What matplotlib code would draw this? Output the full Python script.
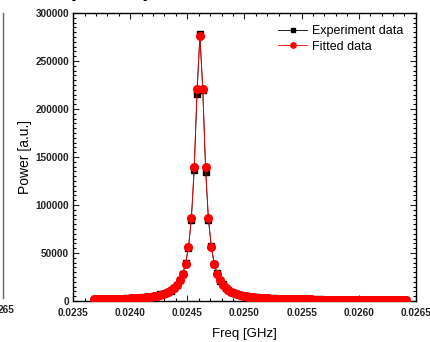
import matplotlib
matplotlib.use("Agg")
import matplotlib.pyplot as plt
from matplotlib.ticker import MultipleLocator, FixedLocator
from matplotlib.lines import Line2D

# frequency sweep [GHz]
freq = [
    0.023685, 0.023710, 0.023735, 0.023760, 0.023785, 0.023810, 0.023835, 0.023860, 0.023885, 0.023910,
    0.023935, 0.023960, 0.023985, 0.024010, 0.024035, 0.024060, 0.024085, 0.024110, 0.024135, 0.024160,
    0.024185, 0.024210, 0.024235, 0.024260, 0.024285, 0.024310, 0.024335, 0.024360, 0.024385, 0.024410,
    0.024435, 0.024460, 0.024485, 0.024510, 0.024535, 0.024560, 0.024585, 0.024610, 0.024635, 0.024660,
    0.024685, 0.024710, 0.024735, 0.024760, 0.024785, 0.024810, 0.024835, 0.024860, 0.024885, 0.024910,
    0.024935, 0.024960, 0.024985, 0.025010, 0.025035, 0.025060, 0.025085, 0.025110, 0.025135, 0.025160,
    0.025185, 0.025210, 0.025235, 0.025260, 0.025285, 0.025310, 0.025335, 0.025360, 0.025385, 0.025410,
    0.025435, 0.025460, 0.025485, 0.025510, 0.025535, 0.025560, 0.025585, 0.025610, 0.025635, 0.025660,
    0.025685, 0.025710, 0.025735, 0.025760, 0.025785, 0.025810, 0.025835, 0.025860, 0.025885, 0.025910,
    0.025935, 0.025960, 0.025985, 0.026010, 0.026035, 0.026060, 0.026085, 0.026110, 0.026135, 0.026160,
    0.026185, 0.026210, 0.026235, 0.026260, 0.026285, 0.026310, 0.026335, 0.026360, 0.026385, 0.026410,
]

experiment = [
    1400, 1900, 1500, 2100, 1600, 2000, 1700, 2300, 1900, 2500,
    2100, 2700, 2300, 2900, 2600, 3300, 3100, 3700, 3600, 4500,
    4300, 5400, 5300, 6800, 6900, 8700, 9300, 10100, 13200, 16500,
    22300, 27600, 39800, 55300, 84800, 136000, 216000, 278000, 220000, 134700,
    84000, 57200, 38100, 29300, 21000, 17800, 13300, 11900, 9300, 8700,
    6900, 6700, 5400, 5300, 4400, 4400, 3600, 3700, 3100, 3300,
    2700, 2900, 2400, 2600, 2200, 2400, 2000, 2200, 1900, 2000,
    1700, 1900, 1600, 1800, 1500, 1700, 1400, 1600, 1300, 1600,
    1200, 1500, 1200, 1400, 1100, 1400, 1100, 1300, 1000, 1300,
    1000, 1300, 1000, 1200, 900, 1200, 1000, 1200, 900, 1100,
    900, 1100, 900, 1200, 900, 1100, 800, 1100, 900, 1000,
]

fitted = [
    1610, 1650, 1700, 1760, 1810, 1880, 1950, 2030, 2110, 2210,
    2310, 2430, 2560, 2710, 2880, 3070, 3290, 3540, 3840, 4180,
    4580, 5060, 5640, 6340, 7210, 8290, 9660, 11450, 13840, 17090,
    21710, 28500, 39010, 56200, 86030, 139300, 221000, 275800, 221000, 139300,
    86030, 56200, 39010, 28500, 21710, 17090, 13840, 11450, 9660, 8290,
    7210, 6340, 5640, 5060, 4580, 4180, 3840, 3540, 3290, 3070,
    2880, 2710, 2560, 2430, 2310, 2210, 2110, 2030, 1950, 1880,
    1810, 1760, 1700, 1650, 1610, 1570, 1530, 1490, 1460, 1430,
    1400, 1370, 1350, 1320, 1300, 1280, 1260, 1240, 1230, 1210,
    1190, 1180, 1170, 1150, 1140, 1130, 1120, 1110, 1100, 1090,
    1080, 1070, 1060, 1050, 1050, 1040, 1030, 1030, 1020, 1010,
]

x_ticks = [0.0235, 0.0240, 0.0245, 0.0250, 0.0255, 0.0260, 0.0265]
y_ticks = [0, 50000, 100000, 150000, 200000, 250000, 300000]

plt.rcParams['font.family'] = ['Liberation Sans', 'DejaVu Sans']

fig = plt.figure(figsize=(4.30, 3.42), dpi=100)
ax = fig.add_axes([0.170, 0.120, 0.797, 0.842])

ax.plot(freq, experiment, color='black', lw=0.6, marker='s', ms=5.0,
        mec='black', mfc='black', label='Experiment data', zorder=2)
ax.plot(freq, fitted, color='red', lw=0.6, marker='o', ms=5.5,
        mec='red', mfc='red', label='Fitted data', zorder=3)

ax.set_xlim(0.0235, 0.0265)
ax.set_ylim(0, 300000)
ax.xaxis.set_major_locator(FixedLocator(x_ticks))
ax.yaxis.set_major_locator(FixedLocator(y_ticks))
ax.xaxis.set_minor_locator(MultipleLocator(0.0001))
ax.yaxis.set_minor_locator(MultipleLocator(5000))
ax.set_xticklabels(['%.4f' % v for v in x_ticks])
ax.set_yticklabels(['%d' % v for v in y_ticks])

ax.tick_params(which='both', direction='in', top=True, right=True, width=0.8)
ax.tick_params(which='major', length=4, labelsize=7.2, colors='#222222')
ax.tick_params(axis='x', which='major', pad=5)
ax.tick_params(axis='y', which='major', pad=3)
ax.tick_params(which='minor', length=2)
for lab in ax.get_xticklabels() + ax.get_yticklabels():
    lab.set_fontweight('bold')
for sp in ax.spines.values():
    sp.set_linewidth(1.0)

ax.set_xlabel('Freq [GHz]', fontsize=9.5, labelpad=7)
ax.set_ylabel('Power [a.u.]', fontsize=10, labelpad=2)

ax.legend(loc='upper right', frameon=False, fontsize=9, handlelength=2.3,
          handletextpad=0.4, labelspacing=0.25, borderaxespad=0.6,
          markerscale=0.7)

# fragments of the neighbouring panel, cut off by the crop
fig.add_artist(Line2D([0.007, 0.007], [0.13, 0.962], transform=fig.transFigure,
                      color='#666666', lw=1.0))
fig.text(0.033, 0.094, '265', fontsize=7.2, fontweight='bold', ha='right',
         va='center', color='#222222')
fig.text(0.163, 1.02, 'p', fontsize=26, va='baseline', ha='left')
fig.text(0.333, 1.02, ')', fontsize=26, va='baseline', ha='left')

fig.savefig('out.png', dpi=100)
